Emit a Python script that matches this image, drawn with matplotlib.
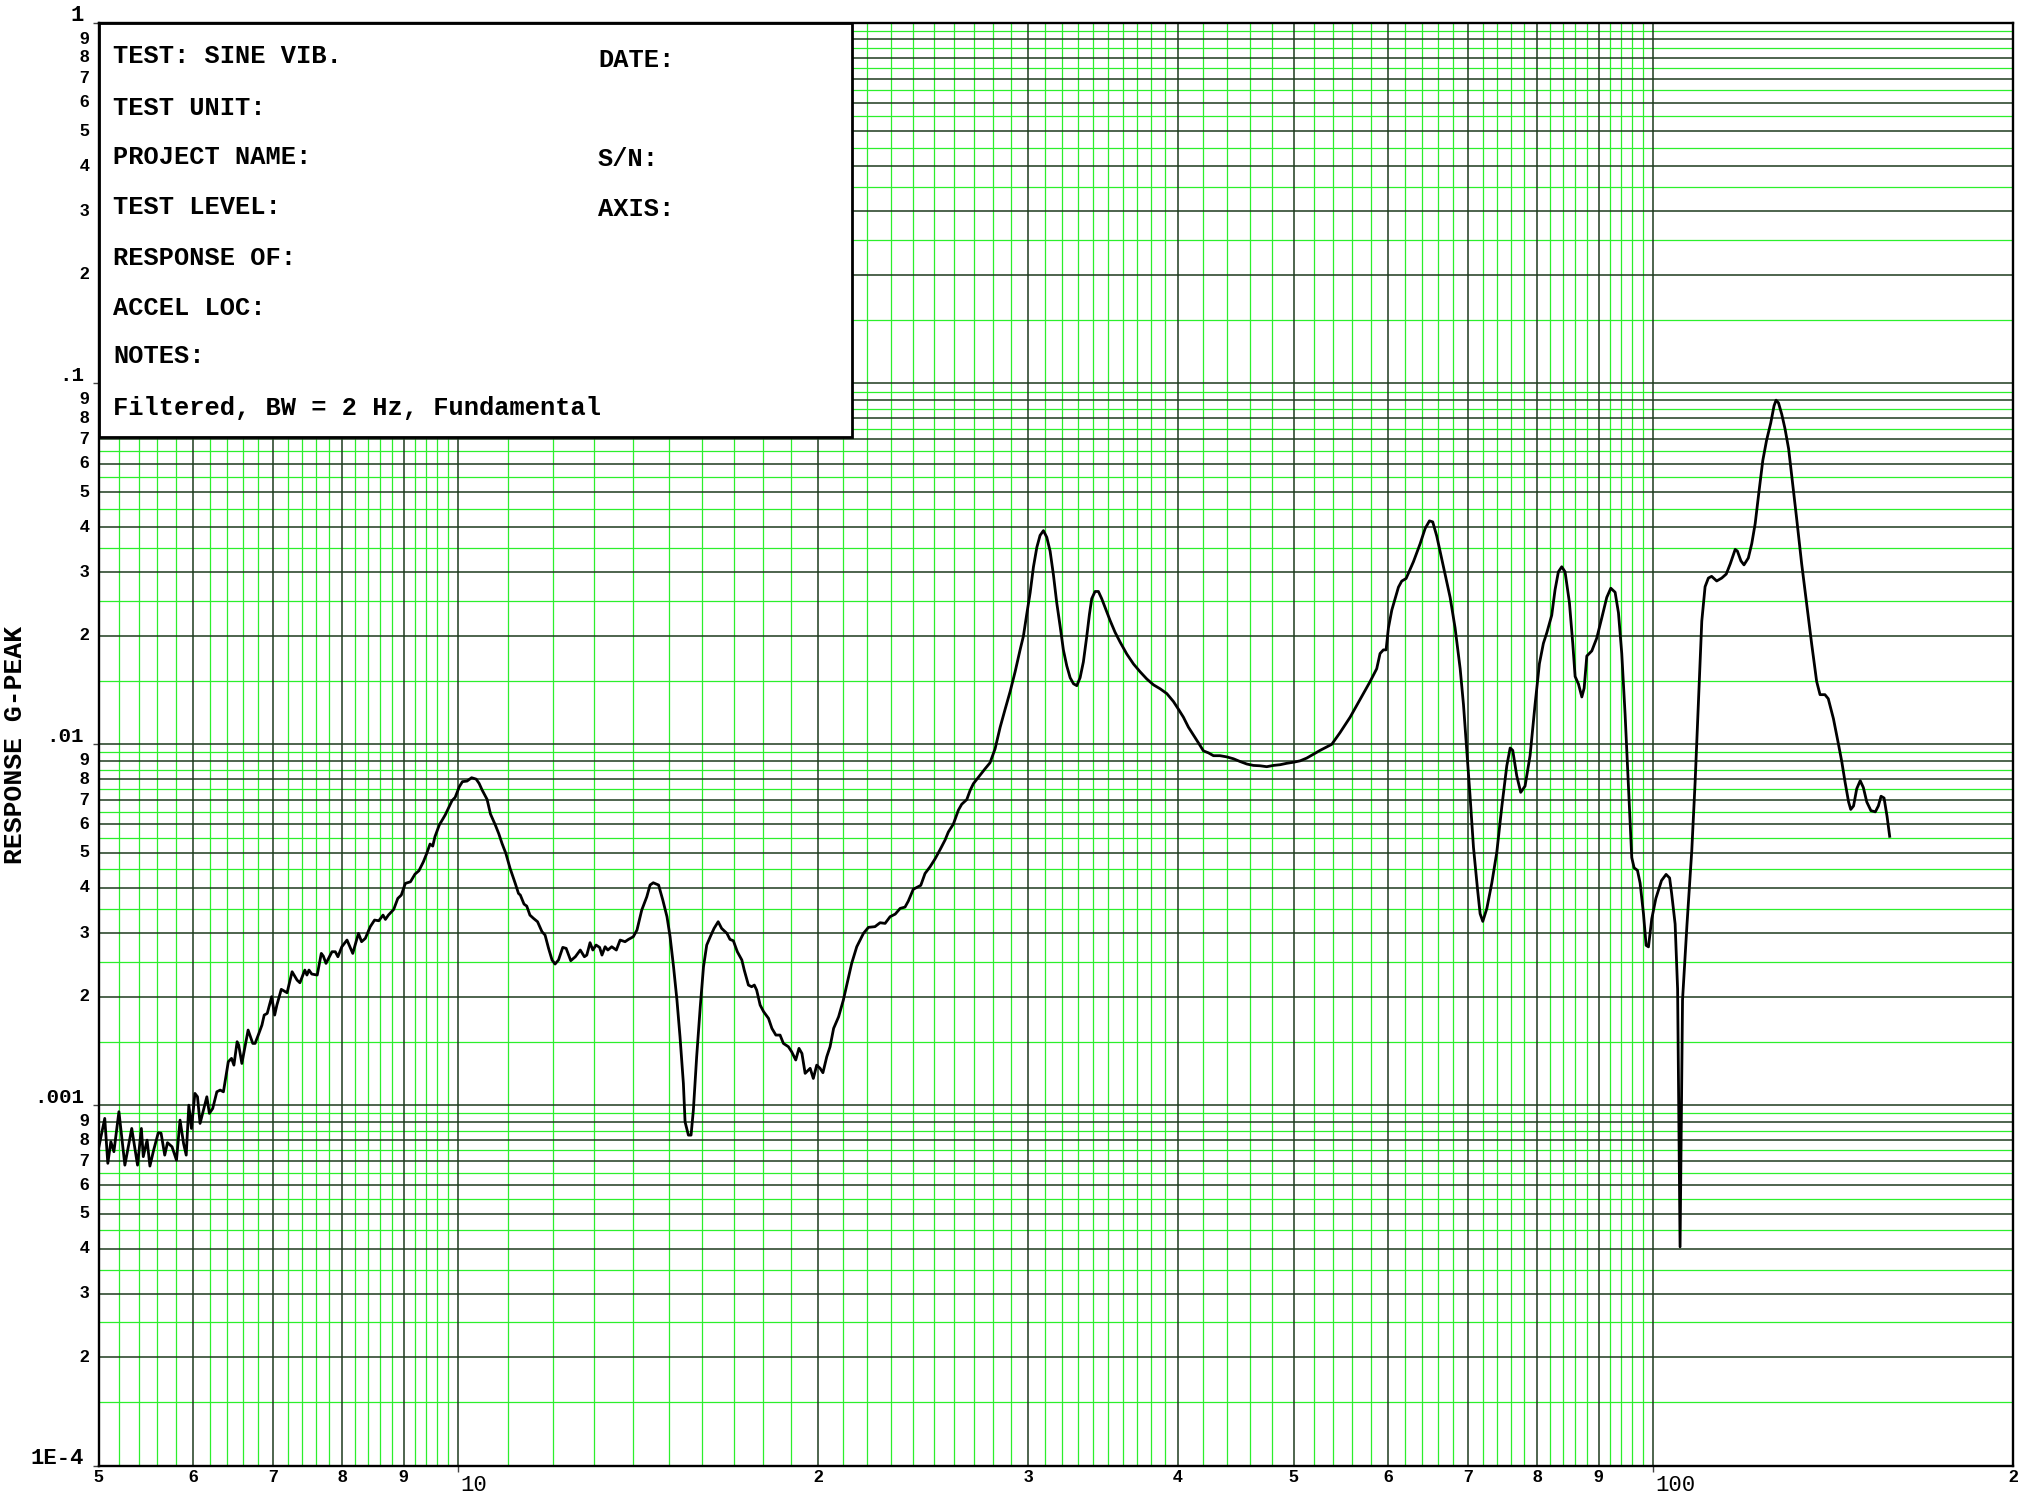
import matplotlib
matplotlib.use("Agg")
import matplotlib.pyplot as plt
import numpy as np
from matplotlib.patches import Rectangle
from matplotlib.ticker import NullLocator
from matplotlib.transforms import blended_transform_factory, offset_copy

# --- data (frequency in Hz, response in milli-g) ---
seg1_freq = [5.00, 5.06, 5.09, 5.12, 5.15, 5.20, 5.26, 5.33, 5.39, 5.43,
             5.45, 5.49, 5.52, 5.56, 5.61, 5.64, 5.68, 5.71, 5.76, 5.81,
             5.85, 5.89, 5.92, 5.95, 5.98, 6.02, 6.05, 6.08, 6.16, 6.19,
             6.23, 6.28, 6.32, 6.36, 6.42, 6.46, 6.49, 6.53, 6.55, 6.59,
             6.67, 6.73, 6.76, 6.81, 6.85, 6.88, 6.92, 6.98, 7.02, 7.05,
             7.11, 7.19, 7.26, 7.33, 7.37, 7.44, 7.47, 7.50, 7.54, 7.62,
             7.68, 7.71, 7.75, 7.84, 7.89, 7.93, 7.99, 8.07, 8.16, 8.25,
             8.30, 8.36, 8.44, 8.51, 8.58, 8.65, 8.69, 8.74, 8.83, 8.90,
             8.96, 9.03, 9.12, 9.20, 9.27, 9.35, 9.41, 9.47, 9.52, 9.56,
             9.64, 9.75, 9.83, 9.88, 9.94, 10.02, 10.08, 10.17, 10.26, 10.35,
             10.41, 10.47, 10.57, 10.64, 10.74, 10.81, 10.88, 10.96, 11.05, 11.16,
             11.23]
seg1_mg = [0.759, 0.919, 0.690, 0.792, 0.743, 0.959, 0.682, 0.862, 0.682, 0.862,
           0.720, 0.800, 0.678, 0.751, 0.839, 0.836, 0.727, 0.787, 0.767, 0.704,
           0.909, 0.783, 0.727, 1.000, 0.862, 1.078, 1.055, 0.890, 1.055, 0.949,
           0.979, 1.089, 1.101, 1.089, 1.319, 1.348, 1.291, 1.499, 1.468, 1.305,
           1.615, 1.483, 1.483, 1.581, 1.667, 1.777, 1.796, 1.998, 1.777, 1.894,
           2.094, 2.049, 2.343, 2.221, 2.184, 2.368, 2.294, 2.368, 2.309, 2.294,
           2.634, 2.589, 2.471, 2.662, 2.662, 2.578, 2.748, 2.868, 2.634, 2.993,
           2.838, 2.899, 3.124, 3.258, 3.244, 3.363, 3.272, 3.363, 3.487, 3.741,
           3.821, 4.117, 4.160, 4.369, 4.464, 4.727, 4.985, 5.292, 5.224, 5.546,
           5.974, 6.368, 6.745, 6.980, 7.130, 7.630, 7.880, 7.910, 8.080, 8.010,
           7.790, 7.470, 7.040, 6.410, 5.974, 5.660, 5.310, 4.985, 4.530, 4.117,
           3.862]

seg2_freq = [11.27, 11.35, 11.41, 11.48, 11.56, 11.65, 11.75, 11.82, 11.90, 11.98,
             12.05, 12.13, 12.23, 12.31, 12.42, 12.53, 12.65, 12.75, 12.81, 12.89,
             12.96, 13.04, 13.13, 13.19, 13.27, 13.34, 13.44, 13.56, 13.66, 13.79,
             13.88, 14.01, 14.11, 14.24, 14.38, 14.47, 14.56, 14.71, 14.83, 14.95,
             15.04, 15.14, 15.24, 15.33, 15.43, 15.48, 15.58, 15.66, 15.73, 15.83,
             15.94, 16.04, 16.14, 16.25, 16.37, 16.50, 16.61, 16.78, 16.88, 16.99,
             17.12, 17.27, 17.35, 17.49, 17.60, 17.69, 17.77, 17.89, 18.01, 18.18,
             18.30, 18.44, 18.59, 18.71, 18.89, 19.01, 19.16, 19.28, 19.39, 19.51,
             19.70, 19.82, 19.95, 20.08, 20.19, 20.34, 20.47, 20.61, 20.81, 21.00,
             21.14, 21.34, 21.55, 21.83, 22.04, 22.32, 22.54, 22.76, 22.98, 23.21,
             23.43]
seg2_mg = [3.821, 3.608, 3.562, 3.363, 3.293, 3.224, 3.025, 2.961, 2.720, 2.525,
           2.461, 2.525, 2.737, 2.720, 2.514, 2.578, 2.691, 2.578, 2.606, 2.820,
           2.691, 2.778, 2.737, 2.606, 2.748, 2.691, 2.748, 2.691, 2.868, 2.838,
           2.880, 2.929, 3.057, 3.472, 3.781, 4.074, 4.134, 4.074, 3.702, 3.329,
           2.929, 2.419, 1.955, 1.548, 1.149, 0.899, 0.826, 0.826, 0.969, 1.362,
           1.874, 2.419, 2.778, 2.929, 3.090, 3.224, 3.090, 2.993, 2.880, 2.855,
           2.662, 2.525, 2.368, 2.152, 2.129, 2.152, 2.084, 1.894, 1.816, 1.740,
           1.632, 1.564, 1.564, 1.483, 1.452, 1.406, 1.334, 1.437, 1.391, 1.225,
           1.265, 1.186, 1.291, 1.265, 1.230, 1.362, 1.452, 1.632, 1.758, 1.955,
           2.152, 2.471, 2.748, 2.993, 3.110, 3.124, 3.203, 3.190, 3.329, 3.385,
           3.510]

seg3_freq = [23.65, 23.80, 24.03, 24.38, 24.58, 24.82, 25.06, 25.30, 25.55, 25.71,
             25.96, 26.21, 26.38, 26.64, 26.81, 26.98, 27.24, 27.60, 27.86, 28.13,
             28.41, 28.68, 28.96, 29.24, 29.52, 29.71, 29.90, 30.10, 30.29, 30.49,
             30.68, 30.88, 31.08, 31.28, 31.48, 31.68, 31.89, 32.09, 32.30, 32.51,
             32.72, 32.93, 33.14, 33.35, 33.57, 33.74, 33.89, 34.11, 34.33, 34.55,
             34.77, 35.11, 35.45, 35.80, 36.26, 36.73, 37.20, 37.68, 38.17, 38.67,
             39.17, 39.67, 40.06, 40.44, 40.83, 41.23, 41.63, 42.03, 42.44, 42.85,
             43.40, 43.96, 44.53, 45.11, 45.69, 46.28, 46.88, 47.48, 48.10, 48.72,
             49.35, 49.99, 50.64]
seg3_mg = [3.539, 3.676, 3.966, 4.066, 4.386, 4.578, 4.815, 5.102, 5.433, 5.716,
           6.012, 6.568, 6.822, 7.031, 7.451, 7.779, 8.099, 8.562, 8.890, 9.71,
           11.16, 12.50, 14.00, 15.89, 18.26, 19.94, 22.90, 26.33, 31.00, 35.16,
           37.94, 39.10, 37.47, 34.29, 29.48, 24.70, 21.23, 18.26, 16.50, 15.30,
           14.72, 14.54, 15.30, 16.92, 19.94, 22.90, 25.33, 26.52, 26.52, 25.33,
           23.97, 22.05, 20.44, 19.19, 17.79, 16.70, 15.89, 15.18, 14.62, 14.25,
           13.82, 13.14, 12.50, 11.89, 11.16, 10.61, 10.09, 9.59, 9.47, 9.30,
           9.30, 9.23, 9.12, 8.96, 8.82, 8.74, 8.72, 8.67, 8.74, 8.78,
           8.86, 8.92, 9.00]

seg4_freq = [51.29, 52.62, 53.82, 54.69, 55.76, 56.84, 57.95, 58.69, 59.07, 59.45,
             59.76, 60.03, 60.42, 61.20, 61.59, 62.11, 63.00, 63.81, 64.43, 64.97,
             65.38, 65.89, 66.75, 67.61, 68.26, 68.93, 69.37, 69.82, 70.26, 70.72,
             71.26, 71.63, 72.00, 72.56, 73.26, 73.97, 74.69, 75.41, 75.90, 76.28,
             76.87, 77.46, 78.11, 78.87, 79.63, 80.30, 80.92, 81.44, 82.23, 82.76,
             83.29, 83.83, 84.37, 85.08, 85.63, 86.02, 86.58, 87.14, 87.53, 87.98,
             88.83, 89.68, 90.56, 91.43, 92.14, 92.91, 93.51, 94.11, 94.72, 95.33,
             95.94, 96.38, 97.00, 97.50, 98.13, 98.63, 99.08, 99.71, 100.5, 101.6,
             102.5, 103.2, 103.6, 104.3, 104.8]
seg4_mg = [9.16, 9.62, 10.00, 10.78, 11.89, 13.31, 14.93, 16.20, 17.85, 18.27,
           18.27, 21.01, 23.54, 27.26, 28.34, 28.81, 32.09, 35.95, 39.64, 41.62,
           41.34, 37.76, 31.05, 25.54, 21.01, 16.20, 12.89, 9.62, 7.17, 5.18,
           3.993, 3.393, 3.231, 3.505, 4.124, 5.02, 6.72, 8.72, 9.77, 9.62,
           8.18, 7.36, 7.66, 9.31, 12.89, 16.73, 19.05, 20.34, 22.79, 26.82,
           30.06, 31.05, 30.06, 24.71, 19.05, 15.42, 14.69, 13.53, 14.31, 17.57,
           18.15, 19.69, 22.42, 25.54, 27.08, 26.39, 23.16, 17.85, 12.08, 7.66,
           4.853, 4.547, 4.474, 4.124, 3.393, 2.773, 2.746, 3.284, 3.741, 4.192,
           4.360, 4.262, 3.864, 3.178, 2.10]

seg5_freq = [105.3, 105.8, 106.7, 107.7, 108.4, 109.1, 109.8, 110.5, 111.2, 111.9,
             113.0, 114.1, 115.1, 116.0, 117.1, 117.6, 118.4, 119.1, 120.1, 120.9,
             121.7, 122.5, 123.5, 124.4, 125.4, 126.2, 126.7, 127.3, 128.1, 128.9,
             129.8, 130.8, 131.8, 133.1, 134.4, 135.7, 137.0, 137.9, 139.2, 140.1,
             141.5, 142.9, 143.8, 144.7, 145.7, 146.3, 147.1, 148.0, 149.0, 149.9,
             150.9, 152.1, 153.4, 154.3, 155.1, 156.0, 156.9, 157.7]
seg5_mg = [0.405, 1.956, 3.149, 5.07, 7.87, 13.14, 21.95, 27.34, 28.89, 29.21,
           28.36, 28.89, 29.64, 31.66, 34.69, 34.31, 32.24, 31.43, 32.84, 35.99,
           40.91, 49.14, 61.2, 69.6, 77.7, 86.7, 89.9, 88.3, 82.1, 74.9,
           65.9, 52.9, 42.44, 31.66, 24.50, 18.95, 14.94, 13.73, 13.73, 13.38,
           11.78, 9.99, 8.95, 7.87, 6.92, 6.60, 6.75, 7.53, 7.93, 7.59,
           6.92, 6.55, 6.50, 6.75, 7.18, 7.10, 6.32, 5.56]

freq = np.concatenate([seg1_freq, seg2_freq, seg3_freq, seg4_freq, seg5_freq])
resp_g = np.concatenate([seg1_mg, seg2_mg, seg3_mg, seg4_mg, seg5_mg]) / 1000.0

# header block
left_fields = ["TEST: SINE VIB.", "TEST UNIT:", "PROJECT NAME:", "TEST LEVEL:",
               "RESPONSE OF:", "ACCEL LOC:", "NOTES:",
               "Filtered, BW = 2 Hz, Fundamental"]
right_fields = ["DATE:", "S/N:", "AXIS:"]

# axis labels
x_small_ticks = [5, 6, 7, 8, 9, 20, 30, 40, 50, 60, 70, 80, 90, 200]
x_small_labels = ["5", "6", "7", "8", "9", "2", "3", "4", "5", "6", "7", "8", "9", "2"]
x_big_ticks = [10, 100]
x_big_labels = ["10", "100"]
y_decades = [1e-4, 1e-3, 1e-2, 1e-1, 1.0]
y_decade_labels = ["1E-4", ".001", ".01", ".1", "1"]
y_digits = [2, 3, 4, 5, 6, 7, 8, 9]

# --- figure ---
fig = plt.figure(figsize=(20.28, 14.94), dpi=100)
ax = fig.add_axes([0.0486, 0.01874, 0.944, 0.9661])
ax.set_xscale("log")
ax.set_yscale("log")
ax.set_xlim(5, 200)
ax.set_ylim(1e-4, 1)

# graph-paper grid
green = "#2cef2c"
dark = "#1e3a1e"
xg = np.round(np.concatenate([np.arange(5.2, 10, 0.2), np.arange(11, 40, 1),
                              np.arange(42, 100, 2), np.arange(110, 200, 10)]), 3)
xg_green = [v for v in xg if abs(v - round(v)) > 1e-6 or (v >= 10 and round(v) % 10 != 0)]
xg_green = [v for v in xg_green if not (v >= 100 and round(v) % 100 == 0)]
xg_dark = [6, 7, 8, 9, 10, 20, 30, 40, 50, 60, 70, 80, 90, 100]
yg_green, yg_dark = [], []
for p in range(-4, 0):
    for k in range(1, 10):
        yg_green.append((k + 0.5) * 10.0 ** p)
        if k > 1 or p > -4:
            yg_dark.append(k * 10.0 ** p)

ax.vlines(xg_green, 1e-4, 1, colors=green, lw=0.9, zorder=1)
ax.hlines(yg_green, 5, 200, colors=green, lw=0.9, zorder=1)
ax.vlines(xg_dark, 1e-4, 1, colors=dark, lw=1.1, zorder=1.5)
ax.hlines(yg_dark, 5, 200, colors=dark, lw=1.1, zorder=1.5)

ax.plot(freq, resp_g, color="black", lw=2.0, zorder=3, solid_joinstyle="round")

# ticks: only short decade marks, labels drawn as text
ax.set_xticks(x_big_ticks)
ax.set_yticks(y_decades)
ax.xaxis.set_minor_locator(NullLocator())
ax.yaxis.set_minor_locator(NullLocator())
ax.tick_params(which="major", direction="out", length=4.5, width=1.0, color="#444444",
               labelbottom=False, labelleft=False)
for s in ax.spines.values():
    s.set_linewidth(1.7)
    s.set_zorder(6)

tx = blended_transform_factory(ax.transData, ax.transAxes)
ty = blended_transform_factory(ax.transAxes, ax.transData)

for v, lab in zip(x_small_ticks, x_small_labels):
    ax.text(v, -0.0078, lab, transform=tx, ha="center", va="center",
            family="Liberation Sans", weight="bold", fontsize=12.5)
for v, lab in zip(x_big_ticks, x_big_labels):
    ax.text(v, -0.0135, lab, transform=offset_copy(tx, fig, x=2.5, y=0, units="dots"),
            ha="left", va="center", family="Liberation Mono", fontsize=16)

for p in range(-4, 0):
    for k in y_digits:
        ax.text(-0.0048, k * 10.0 ** p, str(k), transform=ty, ha="right", va="center",
                family="Liberation Sans", weight="bold", fontsize=12.5)
for v, lab in zip(y_decades, y_decade_labels):
    ax.text(-0.0076, v, lab, transform=offset_copy(ty, fig, x=0, y=2, units="dots"),
            ha="right", va="baseline", family="Liberation Mono", weight="bold",
            fontsize=16 if lab in ("1E-4", "1") else 15)

fig.text(0.0074, 0.5013, "RESPONSE G-PEAK", rotation=90, ha="center", va="center",
         family="Liberation Mono", weight="bold", fontsize=19)

# header box
ax.add_patch(Rectangle((0, 0.713), 0.3933, 0.287, transform=ax.transAxes,
                       facecolor="white", edgecolor="black", lw=2.0, zorder=5,
                       clip_on=False))
left_y = [0.9721, 0.9360, 0.9021, 0.8675, 0.8321, 0.7975, 0.7642, 0.7282]
right_y = [0.9693, 0.9007, 0.8661]
for txt, yy in zip(left_fields, left_y):
    ax.text(0.0076, yy, txt, transform=ax.transAxes, ha="left", va="baseline",
            family="Liberation Mono", weight="bold", fontsize=18.3, zorder=7)
for txt, yy in zip(right_fields, right_y):
    ax.text(0.2609, yy, txt, transform=ax.transAxes, ha="left", va="baseline",
            family="Liberation Mono", weight="bold", fontsize=18.3, zorder=7)

fig.savefig("out.png", dpi=100, facecolor="white")
